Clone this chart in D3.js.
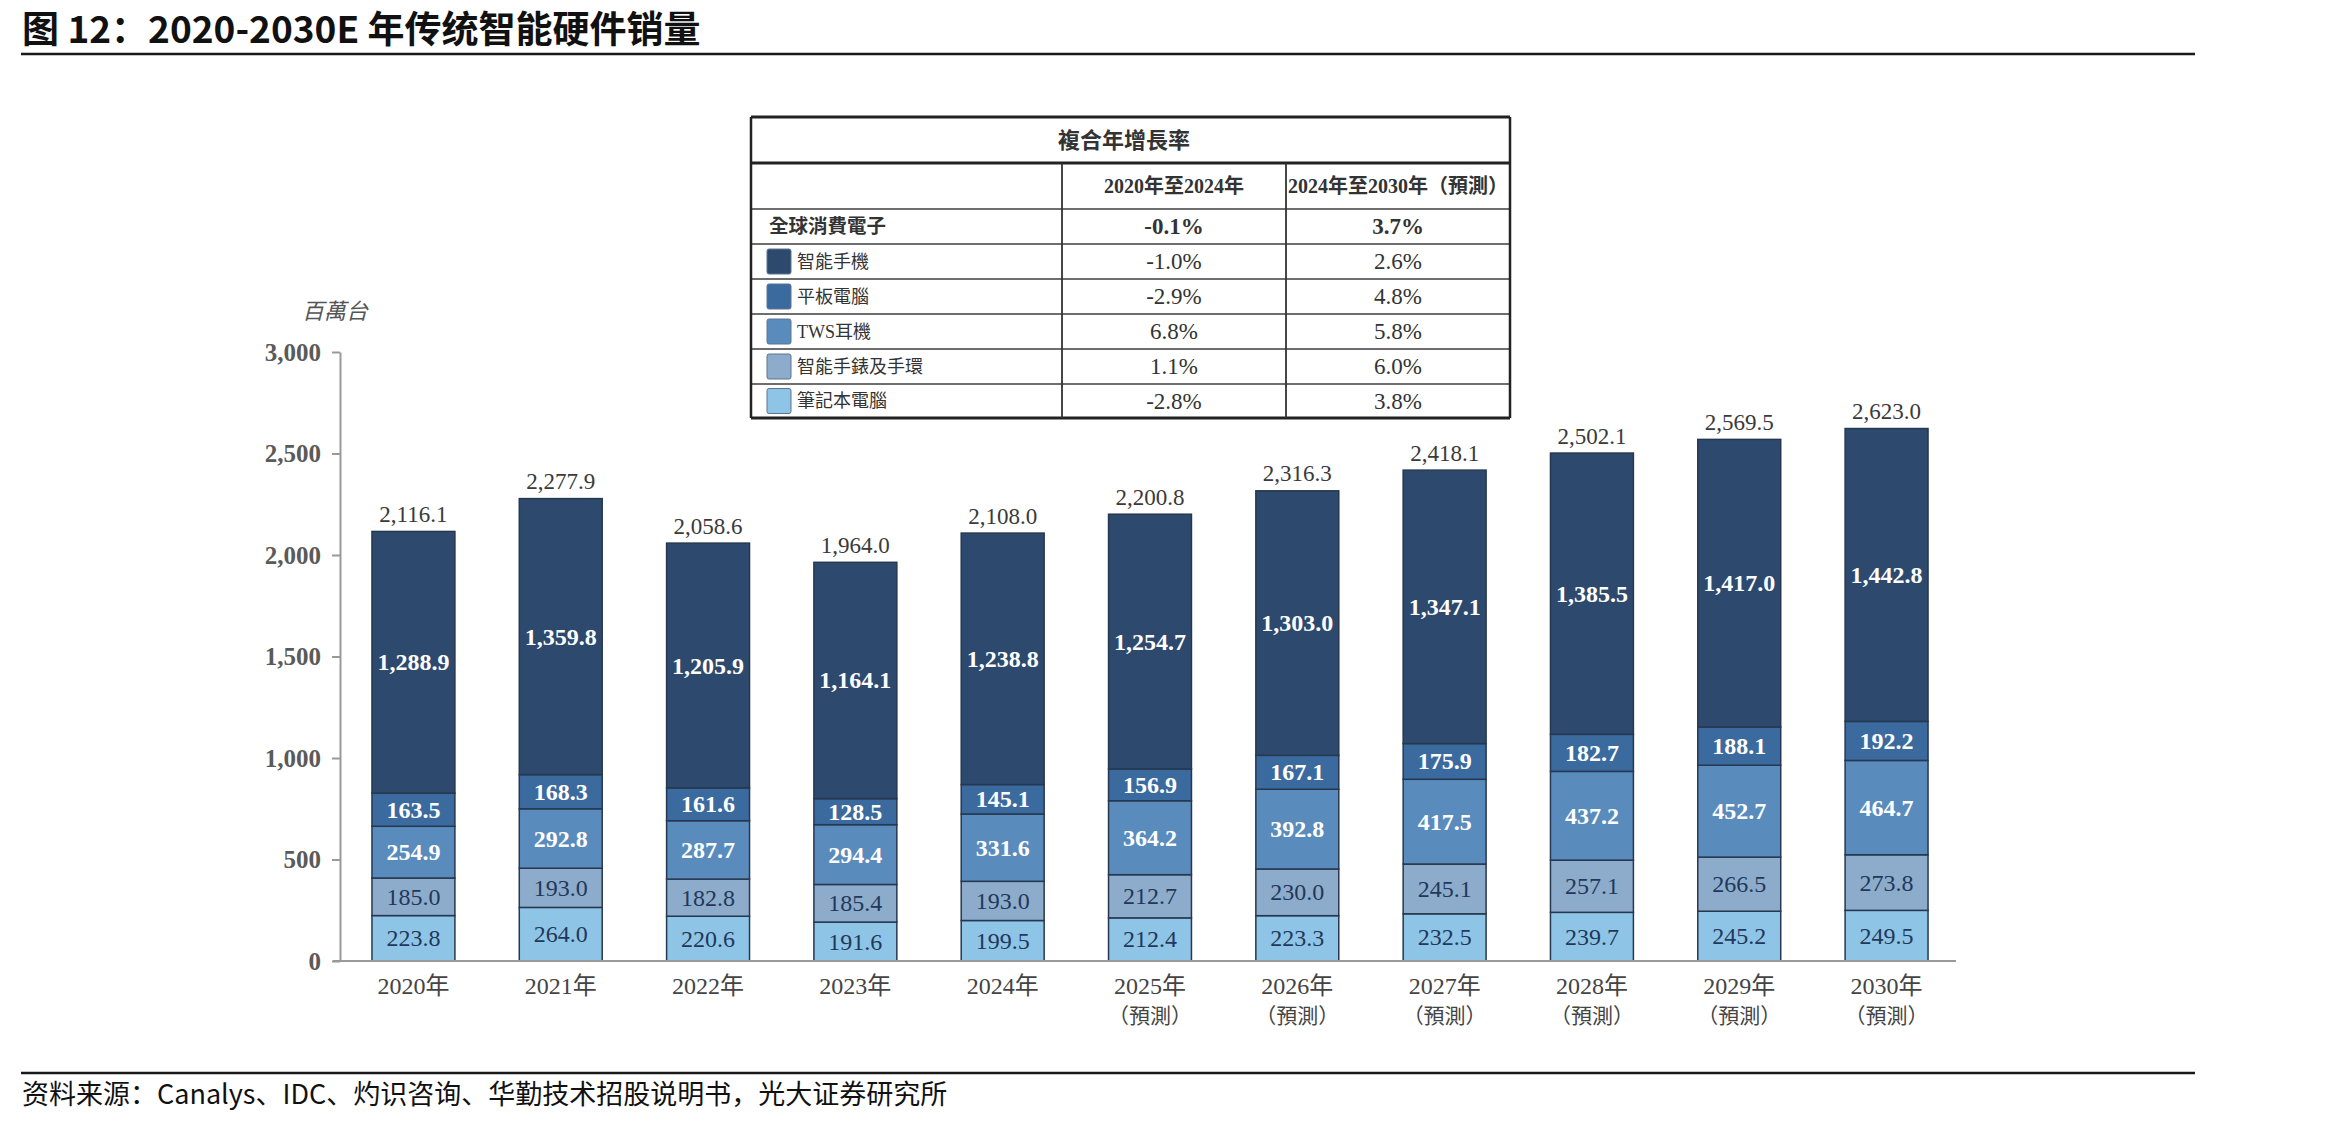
<!DOCTYPE html>
<html><head><meta charset="utf-8">
<script src="https://cdn.jsdelivr.net/npm/d3@7"></script>
<style>
html,body{margin:0;padding:0;background:#fff;}
svg{display:block;}
</style></head>
<body>
<svg id="chart" width="2327" height="1123"></svg>
<script>
// ---------- data ----------
const years = ["2020","2021","2022","2023","2024","2025","2026","2027","2028","2029","2030"];
const forecastFlag = [false,false,false,false,false,true,true,true,true,true,true];
const seriesNames = ["筆記本電腦","智能手錶及手環","TWS耳機","平板電腦","智能手機"];
const laptop     = [223.8,264.0,220.6,191.6,199.5,212.4,223.3,232.5,239.7,245.2,249.5];
const watch      = [185.0,193.0,182.8,185.4,193.0,212.7,230.0,245.1,257.1,266.5,273.8];
const tws        = [254.9,292.8,287.7,294.4,331.6,364.2,392.8,417.5,437.2,452.7,464.7];
const tablet     = [163.5,168.3,161.6,128.5,145.1,156.9,167.1,175.9,182.7,188.1,192.2];
const smartphone = [1288.9,1359.8,1205.9,1164.1,1238.8,1254.7,1303.0,1347.1,1385.5,1417.0,1442.8];
const totals     = [2116.1,2277.9,2058.6,1964.0,2108.0,2200.8,2316.3,2418.1,2502.1,2569.5,2623.0];
const yTicks = [0,500,1000,1500,2000,2500,3000];

const tableRowLabels = ["全球消費電子","智能手機","平板電腦","TWS耳機","智能手錶及手環","筆記本電腦"];
const cagr2020_2024 = ["-0.1%","-1.0%","-2.9%","6.8%","1.1%","-2.8%"];
const cagr2024_2030 = ["3.7%","2.6%","4.8%","5.8%","6.0%","3.8%"];
const tableHeaders = ["複合年增長率","2020年至2024年","2024年至2030年（預測）"];

// ---------- styles ----------
const colors = {"筆記本電腦":"#8ec5e6","智能手錶及手環":"#8daccb","TWS耳機":"#5a8bbd","平板電腦":"#3b6a9f","智能手機":"#2d4a6e"};
const labelColor = {"筆記本電腦":"#22385a","智能手錶及手環":"#22385a","TWS耳機":"#ffffff","平板電腦":"#ffffff","智能手機":"#ffffff"};
const labelBold = {"筆記本電腦":false,"智能手錶及手環":false,"TWS耳機":true,"平板電腦":true,"智能手機":true};
const serif = "'Liberation Serif','Noto Sans CJK TC',serif";
const sans = "'Noto Sans CJK SC','Noto Sans',sans-serif";

const svg = d3.select("#chart");

// title
svg.append("text").attr("x",22).attr("y",43)
  .attr("font-family",sans).attr("font-weight","bold").attr("font-size",37).attr("fill","#111")
  .text("图 12：2020-2030E 年传统智能硬件销量");
svg.append("line").attr("x1",21).attr("x2",2195).attr("y1",54).attr("y2",54)
  .attr("stroke","#1a1a1a").attr("stroke-width",2.5);

// footer
svg.append("line").attr("x1",21).attr("x2",2195).attr("y1",1073).attr("y2",1073)
  .attr("stroke","#1a1a1a").attr("stroke-width",2.5);
svg.append("text").attr("x",22).attr("y",1097).attr("dominant-baseline","middle")
  .attr("font-family",sans).attr("font-size",27).attr("fill","#111")
  .text("资料来源：Canalys、IDC、灼识咨询、华勤技术招股说明书，光大证券研究所");

// ---------- scales ----------
const x = d3.scaleBand().domain(years).range([340,1960]).paddingInner(0.437).paddingOuter(0.217);
const y = d3.scaleLinear().domain([0,3000]).range([961,352]);

// data table for stack
const rows = years.map((yr,i)=>({year:yr,"筆記本電腦":laptop[i],"智能手錶及手環":watch[i],"TWS耳機":tws[i],"平板電腦":tablet[i],"智能手機":smartphone[i]}));
const stacked = d3.stack().keys(seriesNames)(rows);

// y axis
const yAxis = svg.append("g").attr("transform","translate(340,0)")
  .call(d3.axisLeft(y).tickValues(yTicks).tickFormat(d3.format(",")).tickSize(8).tickSizeOuter(0).tickPadding(11));
yAxis.select(".domain").attr("stroke","#999").attr("stroke-width",2);
yAxis.selectAll(".tick line").attr("stroke","#999").attr("stroke-width",2);
yAxis.selectAll(".tick text").attr("font-family",serif).attr("font-size",25).attr("font-weight","bold").attr("fill","#5a5a5a");

svg.append("text").attr("x",302).attr("y",314).attr("dominant-baseline","middle")
  .attr("font-family",serif).attr("font-style","italic").attr("font-size",22).attr("fill","#555")
  .text("百萬台");

// bars
const layers = svg.append("g").selectAll("g").data(stacked).join("g")
  .attr("fill",d=>colors[d.key]);
layers.selectAll("rect").data(d=>d).join("rect")
  .attr("x",d=>x(d.data.year)).attr("width",x.bandwidth())
  .attr("y",d=>y(d[1])).attr("height",d=>y(d[0])-y(d[1]))
  .attr("stroke","#26384f").attr("stroke-width",1.5);

// segment labels
const lab = svg.append("g").selectAll("g").data(stacked).join("g");
lab.selectAll("text").data(d=>d.map(v=>({v,key:d.key}))).join("text")
  .attr("x",d=>x(d.v.data.year)+x.bandwidth()/2)
  .attr("y",d=>(y(d.v[0])+y(d.v[1]))/2)
  .attr("text-anchor","middle").attr("dominant-baseline","central")
  .attr("font-family",serif).attr("font-size",24)
  .attr("font-weight",d=>labelBold[d.key]?"bold":"normal")
  .attr("fill",d=>labelColor[d.key])
  .text(d=>d3.format(",.1f")(d.v.data[d.key]));

// total labels
svg.append("g").selectAll("text").data(years).join("text")
  .attr("x",d=>x(d)+x.bandwidth()/2)
  .attr("y",(d,i)=>y(totals[i])-17)
  .attr("text-anchor","middle").attr("dominant-baseline","central")
  .attr("font-family",serif).attr("font-size",23).attr("fill","#3a3a3a")
  .text((d,i)=>d3.format(",.1f")(totals[i]));

// x baseline
svg.append("line").attr("x1",333).attr("x2",1956).attr("y1",y(0)).attr("y2",y(0))
  .attr("stroke","#999").attr("stroke-width",2);

// x labels
svg.append("g").selectAll("text").data(years).join("text")
  .attr("x",d=>x(d)+x.bandwidth()/2).attr("y",986)
  .attr("text-anchor","middle").attr("dominant-baseline","central")
  .attr("font-family",serif).attr("font-size",24).attr("fill","#444")
  .text(d=>d+"年");
svg.append("g").selectAll("text").data(years.filter((d,i)=>forecastFlag[i])).join("text")
  .attr("x",d=>x(d)+x.bandwidth()/2).attr("y",1016)
  .attr("text-anchor","middle").attr("dominant-baseline","central")
  .attr("font-family",serif).attr("font-size",21).attr("fill","#444")
  .text("（預測）");

// ---------- CAGR table ----------
const tx0 = 751, tx1 = 1510, c1 = 1062, c2 = 1286;
const rowY = [117,163,209,244,279,314,349,384,418];
const tg = svg.append("g");
rowY.forEach((yy,i)=>{
  const heavy = (i===0||i===1||i===rowY.length-1);
  tg.append("line").attr("x1",tx0).attr("x2",tx1).attr("y1",yy).attr("y2",yy)
    .attr("stroke",heavy?"#222":"#6e6e6e").attr("stroke-width",heavy?3:2.2);
});
[tx0,tx1].forEach(xx=>tg.append("line").attr("x1",xx).attr("x2",xx).attr("y1",rowY[0]).attr("y2",rowY[rowY.length-1])
  .attr("stroke","#222").attr("stroke-width",2.5));
[c1,c2].forEach(xx=>tg.append("line").attr("x1",xx).attr("x2",xx).attr("y1",rowY[1]).attr("y2",rowY[rowY.length-1])
  .attr("stroke","#333").attr("stroke-width",1.8));
tg.append("text").attr("x",1124).attr("y",(rowY[0]+rowY[1])/2).attr("text-anchor","middle").attr("dominant-baseline","central")
  .attr("font-family",serif).attr("font-weight","bold").attr("font-size",22).attr("fill","#333").text(tableHeaders[0]);
tg.append("text").attr("x",(c1+c2)/2).attr("y",(rowY[1]+rowY[2])/2).attr("text-anchor","middle").attr("dominant-baseline","central")
  .attr("font-family",serif).attr("font-weight","bold").attr("font-size",20).attr("fill","#333").text(tableHeaders[1]);
tg.append("text").attr("x",(c2+tx1)/2).attr("y",(rowY[1]+rowY[2])/2).attr("text-anchor","middle").attr("dominant-baseline","central")
  .attr("font-family",serif).attr("font-weight","bold").attr("font-size",20).attr("fill","#333").text(tableHeaders[2]);
const swatchKeys = [null,"智能手機","平板電腦","TWS耳機","智能手錶及手環","筆記本電腦"];
tableRowLabels.forEach((lbl,i)=>{
  const cy = (rowY[i+2]+rowY[i+3])/2;
  const first = i===0;
  if(!first){
    tg.append("rect").attr("x",767).attr("y",cy-12.5).attr("width",24).attr("height",25).attr("rx",2)
      .attr("fill",colors[swatchKeys[i]]).attr("stroke","#5d7590").attr("stroke-width",1);
  }
  tg.append("text").attr("x",first?769:797).attr("y",cy).attr("dominant-baseline","central")
    .attr("font-family",serif).attr("font-size",first?19.5:18).attr("font-weight",first?"bold":"normal").attr("fill","#333").text(lbl);
  tg.append("text").attr("x",(c1+c2)/2).attr("y",cy).attr("text-anchor","middle").attr("dominant-baseline","central")
    .attr("font-family",serif).attr("font-size",23).attr("font-weight",first?"bold":"normal").attr("fill","#333").text(cagr2020_2024[i]);
  tg.append("text").attr("x",(c2+tx1)/2).attr("y",cy).attr("text-anchor","middle").attr("dominant-baseline","central")
    .attr("font-family",serif).attr("font-size",23).attr("font-weight",first?"bold":"normal").attr("fill","#333").text(cagr2024_2030[i]);
});
</script>
</body></html>
